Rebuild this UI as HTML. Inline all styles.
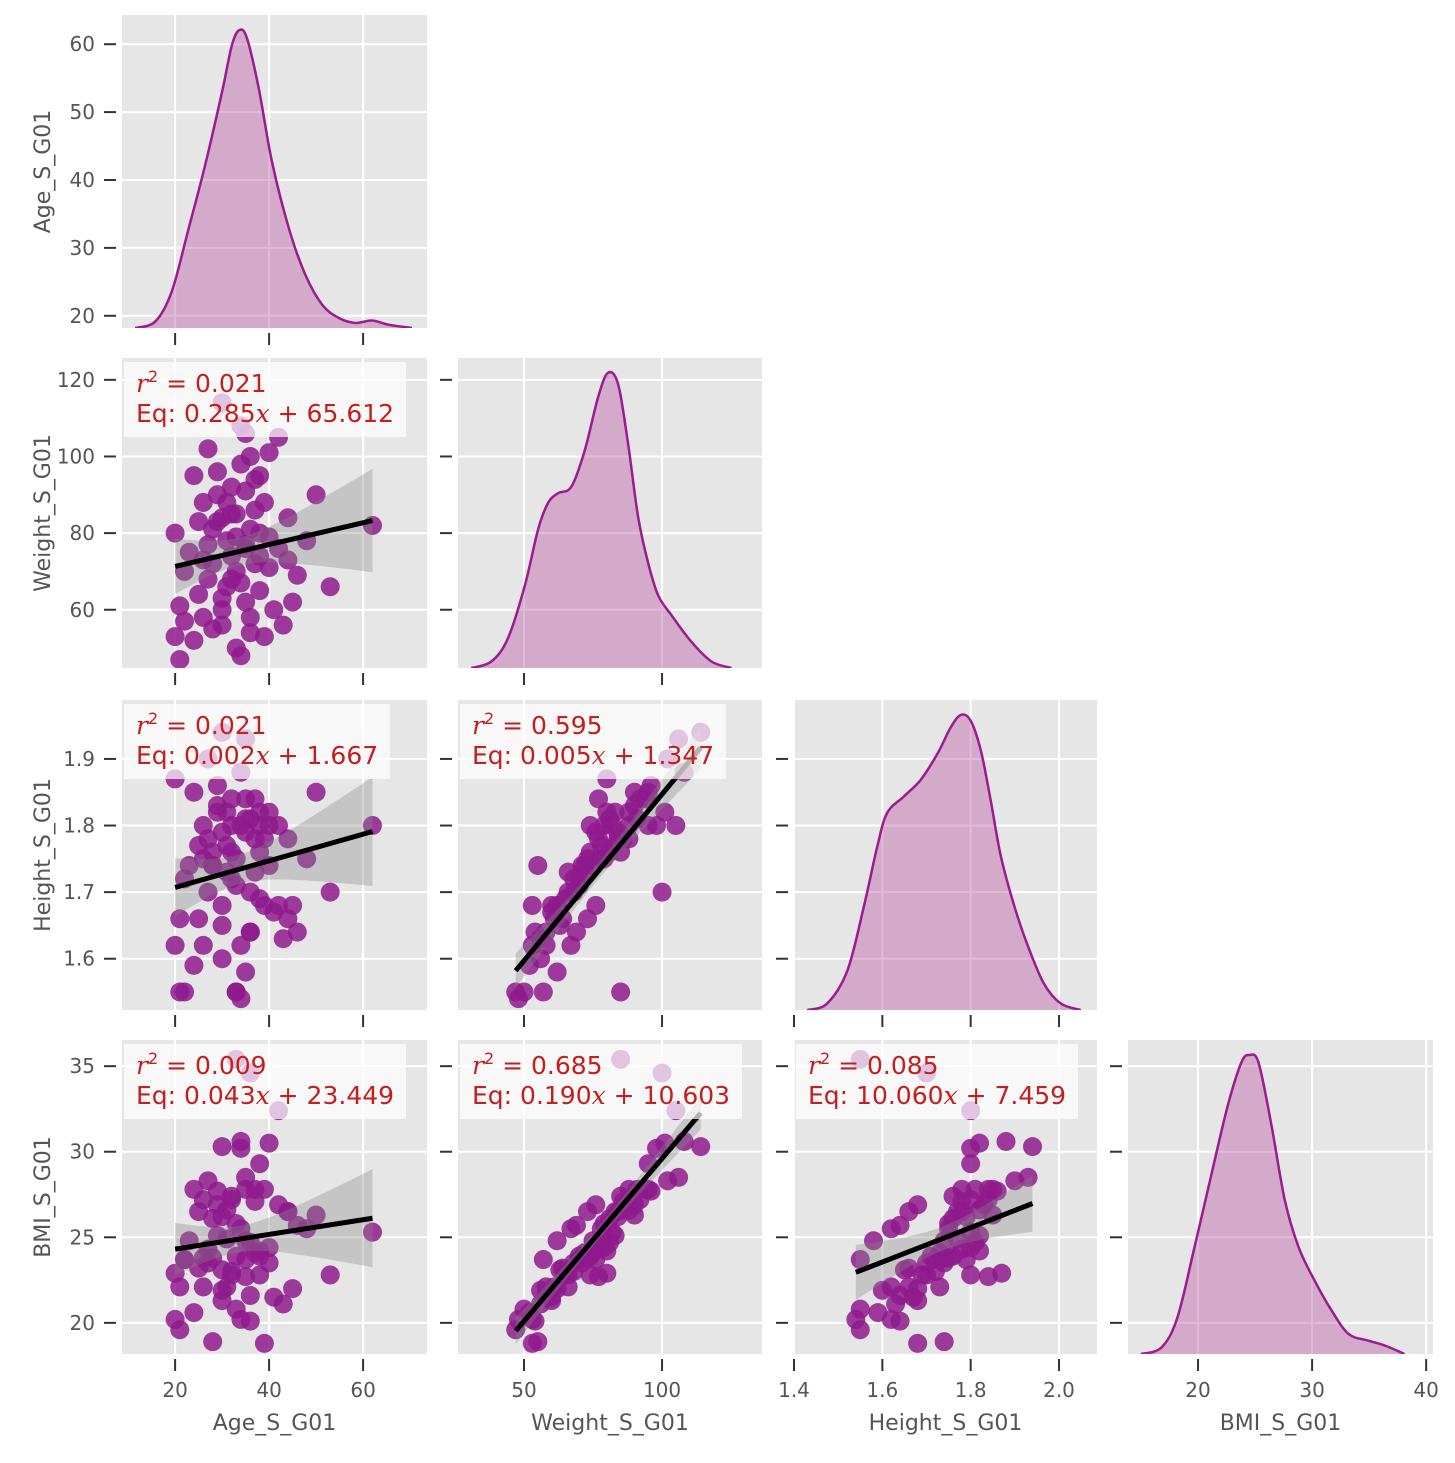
<!DOCTYPE html>
<html><head><meta charset="utf-8"><style>
html,body{margin:0;padding:0;background:#fff}
svg{display:block}
text{font-family:"DejaVu Sans","Liberation Sans",sans-serif}
</style></head><body>
<svg id="chart" width="1455" height="1463" viewBox="0 0 1455 1463" xmlns="http://www.w3.org/2000/svg"></svg>
<script>
const varNames = ["Age_S_G01","Weight_S_G01","Height_S_G01","BMI_S_G01"];
const ages =    [20,21,20,22,23,24,25,26,27,28,28,29,30,30,31,32,32,33,34,34,35,35,36,36,37,38,38,39,40,41,42,43,44,45,46,48,50,53,62,29,31,33,27,26,30,35,37,39,33,24,28,32,34,36,40,22,25,31,36,38,42,30,33,35,37,29,27,34,32,30,44,21,35,38,26,40];
const weights = [53,47,80,57,75,52,64,88,102,55,72,83,114,60,78,92,68,85,48,98,76,106,58,81,86,65,74,53,79,60,105,56,73,62,69,78,90,66,82,90,66,70,77,58,84,62,94,88,50,95,81,74,67,100,71,70,83,88,54,80,76,63,79,91,72,96,68,108,85,56,84,61,77,95,73,101];
const heights = [1.62,1.55,1.87,1.55,1.74,1.59,1.66,1.80,1.90,1.74,1.74,1.82,1.94,1.68,1.77,1.84,1.72,1.55,1.54,1.80,1.79,1.93,1.64,1.81,1.78,1.69,1.76,1.68,1.80,1.67,1.80,1.63,1.66,1.68,1.64,1.75,1.85,1.70,1.80,1.83,1.73,1.71,1.78,1.62,1.79,1.58,1.84,1.78,1.55,1.85,1.76,1.80,1.62,1.70,1.74,1.72,1.77,1.82,1.64,1.82,1.68,1.65,1.75,1.81,1.73,1.86,1.70,1.88,1.76,1.60,1.78,1.66,1.84,1.80,1.75,1.82];
const bmis =    [20.2,19.6,22.9,23.7,24.8,20.6,23.2,27.2,28.3,18.9,23.8,25.1,30.3,21.3,24.9,27.2,23.0,35.4,20.2,30.2,23.7,28.5,21.6,24.7,27.1,22.8,23.9,18.8,24.4,21.5,32.4,21.1,26.5,22.0,25.7,25.5,26.3,22.8,25.3,26.9,22.1,23.9,24.3,22.1,26.2,24.8,27.8,27.8,20.8,27.8,26.1,22.8,25.5,34.6,23.5,23.7,26.5,26.6,20.1,24.2,26.9,23.1,25.8,27.8,24.1,27.7,23.5,30.6,27.4,21.9,26.5,22.1,22.7,29.3,23.8,30.5];
const kdeAgeX = [11.5,15.8,19.3,22.9,26.4,30.0,32.1,33.7,35.3,37.8,40.6,44.2,47.7,51.3,54.8,58.3,61.9,65.4,70.4];
const kdeAgeY = [0,0.022,0.123,0.335,0.547,0.793,0.95,1,0.972,0.804,0.559,0.335,0.179,0.078,0.034,0.017,0.025,0.011,0];
const kdeWeightX = [30.9,38.2,44.2,50.3,55.1,58.7,62.3,67.2,72.0,76.8,80.4,84.1,87.7,91.3,94.9,98.6,103.4,110.6,117.9,125.1];
const kdeWeightY = [0,0.022,0.101,0.279,0.469,0.559,0.592,0.615,0.737,0.916,1,0.961,0.76,0.514,0.358,0.246,0.179,0.089,0.022,0];
const kdeHeightX = [1.430,1.475,1.521,1.559,1.589,1.611,1.649,1.687,1.725,1.755,1.778,1.800,1.823,1.845,1.868,1.898,1.928,1.966,2.004,2.049];
const kdeHeightY = [0,0.022,0.134,0.356,0.557,0.668,0.724,0.780,0.869,0.958,1,0.980,0.879,0.713,0.523,0.356,0.223,0.089,0.022,0];
const kdeBmiX = [15.0,16.8,18.2,19.7,21.2,22.6,23.8,24.5,25.3,26.4,27.6,28.8,30.2,31.7,33.2,34.9,36.4,38.1];
const kdeBmiY = [0,0.022,0.123,0.359,0.605,0.830,0.975,1,0.975,0.773,0.516,0.359,0.247,0.146,0.067,0.045,0.028,0];
const xTicks = [[20,40,60],[50,100],[1.4,1.6,1.8,2.0],[20,30,40]];
const xTickLabels = [["20","40","60"],["50","100"],["1.4","1.6","1.8","2.0"],["20","30","40"]];
const yTicks = [[20,30,40,50,60],[60,80,100,120],[1.6,1.7,1.8,1.9],[20,25,30,35]];
const yTickLabels = [["20","30","40","50","60"],["60","80","100","120"],["1.6","1.7","1.8","1.9"],["20","25","30","35"]];
const pairRows = [1,2,2,3,3,3];
const pairCols = [0,0,1,0,1,2];
const slopes = [0.285,0.002,0.005,0.043,0.190,10.060];
const intercepts = [65.612,1.667,1.347,23.449,10.603,7.459];
const r2s = ["0.021","0.021","0.595","0.009","0.685","0.085"];
const slopeTxt = ["0.285","0.002","0.005","0.043","0.190","10.060"];
const intTxt = ["65.612","1.667","1.347","23.449","10.603","7.459"];

const NS="http://www.w3.org/2000/svg";
const svg=document.getElementById('chart');
const data=[ages,weights,heights,bmis];
const kx=[kdeAgeX,kdeWeightX,kdeHeightX,kdeBmiX], ky=[kdeAgeY,kdeWeightY,kdeHeightY,kdeBmiY];
const colL=[122,458,794,1128], colW=[305,304,303,305];
const rowT=[15,358,700,1040], rowH=[313,310,310,314];
const xDom=[[8.7,73.6],[26.1,136.2],[1.4,2.086],[13.86,40.6]];
const yDom=[[18.2,64.3],[44.8,125.7],[1.523,1.9885],[18.18,36.53]];
function X(j,v){return colL[j]+(v-xDom[j][0])/(xDom[j][1]-xDom[j][0])*colW[j];}
function Y(i,v){return rowT[i]+rowH[i]-(v-yDom[i][0])/(yDom[i][1]-yDom[i][0])*rowH[i];}
function mk(tag,attrs,parent){const e=document.createElementNS(NS,tag);for(const k in attrs)e.setAttribute(k,attrs[k]);(parent||svg).appendChild(e);return e;}
function smooth(pts){let d='M'+pts[0][0]+','+pts[0][1];for(let k=0;k<pts.length-1;k++){const p0=pts[k-1]||pts[k],p1=pts[k],p2=pts[k+1],p3=pts[k+2]||p2;d+=' C'+(p1[0]+(p2[0]-p0[0])/6)+','+(p1[1]+(p2[1]-p0[1])/6)+' '+(p2[0]-(p3[0]-p1[0])/6)+','+(p2[1]-(p3[1]-p1[1])/6)+' '+p2[0]+','+p2[1];}return d;}

for(let i=0;i<4;i++){for(let j=0;j<=i;j++){
  const g=mk('g',{});
  
  
  const L=colL[j],T=rowT[i],W=colW[j],H=rowH[i];
  mk('rect',{x:L,y:T,width:W,height:H,fill:'#e6e6e6'},g);
  const clipId='c'+i+j; const cp=mk('clipPath',{id:clipId},g); mk('rect',{x:L,y:T,width:W,height:H},cp);
  xTicks[j].forEach(t=>{const x=X(j,t);mk('line',{x1:x,x2:x,y1:T,y2:T+H,stroke:'#fff','stroke-width':2},g);
    const tk=mk('line',{x1:x,x2:x,y1:T+H+5,y2:T+H+17,stroke:'#333','stroke-width':2},g);
    });
  yTicks[i].forEach(t=>{const y=Y(i,t);mk('line',{x1:L,x2:L+W,y1:y,y2:y,stroke:'#fff','stroke-width':2},g);
    const tk=mk('line',{x1:L-18,x2:L-6,y1:y,y2:y,stroke:'#333','stroke-width':2},g);
    });
  const inner=mk('g',{'clip-path':'url(#'+clipId+')'},g);
  if(i===j){
    const pts=kx[i].map((v,k)=>[X(j,v),T+H-ky[i][k]*0.952*H]);
    const line=smooth(pts);
    const base=T+H;
    const area=mk('path',{d:line+' L'+pts[pts.length-1][0]+','+base+' L'+pts[0][0]+','+base+' Z',fill:'#b94fa0','fill-opacity':0.4},inner);
    
    const ln=mk('path',{d:line,fill:'none',stroke:'#9b1c8f','stroke-width':2.5},inner);
    
  } else {
    const p=pairRows.findIndex((r,k)=>r===i&&pairCols[k]===j);
    const xs=data[j],ys=data[i],n=xs.length;
    const m=slopes[p],b=intercepts[p];
    let xm=0;xs.forEach(v=>xm+=v);xm/=n;let sxx=0,ss=0;
    xs.forEach((v,k)=>{sxx+=(v-xm)*(v-xm);const r=ys[k]-(m*v+b);ss+=r*r;});
    const s=Math.sqrt(ss/(n-2));
    const x0=Math.min(...xs),x1=Math.max(...xs);
    const up=[],dn=[];
    for(let q=0;q<=30;q++){const xv=x0+(x1-x0)*q/30;const hw=1.99*s*Math.sqrt(1/n+(xv-xm)*(xv-xm)/sxx);
      up.push(X(j,xv)+','+Y(i,m*xv+b+hw));dn.unshift(X(j,xv)+','+Y(i,m*xv+b-hw));}
    xs.forEach((v,k)=>{const c=mk('circle',{cx:X(j,v),cy:Y(i,ys[k]),r:9.5,fill:'#8e1a8c','fill-opacity':0.85},inner);
      });
    const band=mk('polygon',{points:up.concat(dn).join(' '),fill:'#888','fill-opacity':0.35},inner);
    
    const rl=mk('line',{x1:X(j,x0),y1:Y(i,m*x0+b),x2:X(j,x1),y2:Y(i,m*x1+b),stroke:'#000','stroke-width':5},inner);
    
    const box=mk('rect',{x:L+2,y:T+4,width:200,height:75,fill:'#fff','fill-opacity':0.7},g);
    
    const t1=mk('text',{x:L+14,y:T+34,'font-size':25,fill:'#c41e1e'},g);
    
    t1.innerHTML='<tspan font-style="italic" font-family="DejaVu Serif, Liberation Serif, serif">r</tspan><tspan dy="-10" font-size="16">2</tspan><tspan dy="10"> = '+r2s[p]+'</tspan>';
    const t2=mk('text',{x:L+14,y:T+64,'font-size':25,fill:'#c41e1e'},g);
    
    t2.innerHTML='Eq: '+slopeTxt[p]+'<tspan font-style="italic" font-family="DejaVu Serif, Liberation Serif, serif">x</tspan> + '+intTxt[p];
    let w=200;try{w=Math.max(t1.getComputedTextLength(),t2.getComputedTextLength())+24;}catch(e){}
    box.setAttribute('width',w);
  }
}}
for(let i=0;i<4;i++){
  yTicks[i].forEach((t,k)=>{const e=mk('text',{x:95,y:Y(i,t)+7,'text-anchor':'end','font-size':20,fill:'#555'});
    e.textContent=yTickLabels[i][k];});
  const cy=rowT[i]+rowH[i]/2;
  const yt=mk('text',{x:50,y:cy,'text-anchor':'middle','font-size':22,fill:'#555',transform:'rotate(-90 50 '+cy+')'});
  yt.textContent=varNames[i];
}
for(let j=0;j<4;j++){
  xTicks[j].forEach((t,k)=>{const e=mk('text',{x:X(j,t),y:1397,'text-anchor':'middle','font-size':20,fill:'#555'});
    e.textContent=xTickLabels[j][k];});
  const xt=mk('text',{x:colL[j]+colW[j]/2,y:1430,'text-anchor':'middle','font-size':22,fill:'#555'});
  xt.textContent=varNames[j];
}
</script>
</body></html>
